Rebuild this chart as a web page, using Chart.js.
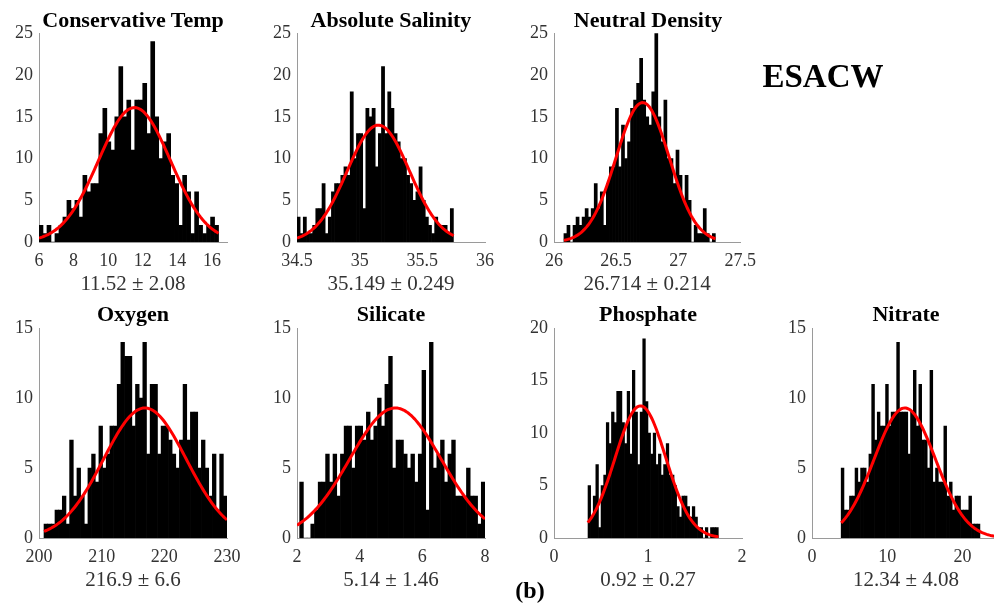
<!DOCTYPE html>
<html>
<head>
<meta charset="utf-8">
<script src="https://cdn.jsdelivr.net/npm/chart.js@4.4.1/dist/chart.umd.min.js"></script>
<style>
html, body { margin: 0; padding: 0; background: #fff; width: 994px; height: 610px; overflow: hidden; }
canvas { position: absolute; }
.lbl { position: absolute; font-family: "Liberation Serif", "Times New Roman", serif; font-weight: bold; color: #000;
       transform: translate(-50%, -50%); white-space: nowrap; z-index: 5; line-height: 1; }
</style>
</head>
<body>
<div class="lbl" style="left:823px; top:76px; font-size:33px;">ESACW</div>
<div class="lbl" style="left:530px; top:590px; font-size:24px;">(b)</div>
<script>
// histogram counts per bin
const tempCounts = [2,1,2,0,1,2,3,5,4,5,3,8,6,7,7,13,16,12,11,15,21,15,17,11,17,17,19,13,24,15,10,12,13,8,7,2,8,6,1,6,2,1,2,3,2];
const salinityCounts = [3,1,3,1,1,2,4,4,7,1,3,6,7,7,8,9,8,18,10,13,13,4,16,15,16,9,13,21,13,18,16,13,12,10,10,8,7,5,6,9,5,3,2,1,3,2,2,2,1,4];
const densityCounts = [1,2,0,2,3,2,3,4,3,4,7,4,6,2,7,9,9,16,9,14,10,12,16,17,19,22,17,15,14,18,25,15,12,17,10,10,7,11,8,5,8,5,0,2,1,1,4,1,0,1];
const oxygenCounts = [1,1,1,2,2,3,1,7,3,5,3,1,5,6,4,8,5,6,8,8,11,14,13,13,8,11,10,14,6,11,11,6,8,8,7,6,5,7,11,7,9,9,5,7,5,3,6,2,6,3];
const silicateCounts = [4,0,0,1,2,4,4,6,4,6,3,6,8,8,5,8,8,7,9,7,8,10,8,11,13,5,7,7,6,5,6,4,6,12,2,14,5,6,7,4,6,7,3,3,3,5,3,3,1,4];
const phosphateCounts = [5,2,4,7,1,5,6,11,9,12,11,14,14,11,9,14,8,16,12,7,12,19,13,10,8,10,7,8,6,7,9,6,6,5,3,2,4,4,3,2,3,2,1,1,0,1,0,1,1,1];
const nitrateCounts = [5,2,2,3,3,5,4,5,5,4,6,11,7,9,8,8,11,8,9,9,14,9,9,9,6,9,12,8,11,7,7,5,12,4,5,4,4,8,3,4,2,3,3,2,2,2,3,1,1,1];

const titles = ['Conservative Temp', 'Absolute Salinity', 'Neutral Density', 'Oxygen', 'Silicate', 'Phosphate', 'Nitrate'];
const means = [11.52, 35.149, 26.714, 216.9, 5.14, 0.92, 12.34];
const stds = [2.08, 0.249, 0.214, 6.6, 1.46, 0.27, 4.08];
const statLabels = ['11.52 ± 2.08', '35.149 ± 0.249', '26.714 ± 0.214', '216.9 ± 6.6', '5.14 ± 1.46', '0.92 ± 0.27', '12.34 ± 4.08'];

// first bin edge and bin width
const binStart = [6.0, 34.5, 26.08, 200.8, 2.085, 0.362, 3.88];
const binWidth = [0.2307, 0.02496, 0.02439, 0.584, 0.1183, 0.02772, 0.369];

// fitted normal curve: peak height and x-range it is drawn over
const fitPeak = [16.1, 14.0, 16.7, 9.3, 9.3, 12.6, 9.3];
const fitFrom = [6.0, 34.5, 26.08, 200.8, 2.0, 0.36, 3.88];
const fitTo = [16.38, 35.75, 27.30, 230, 8.0, 1.75, 25];

// axis limits and ticks
const xMin = [6, 34.5, 26, 200, 2, 0, 0];
const xMax = [16.87, 36, 27.5, 230, 8, 2, 25];
const xStep = [2, 0.5, 0.5, 10, 2, 1, 10];
const yMax = [25, 25, 25, 15, 15, 20, 15];

const allCounts = [tempCounts, salinityCounts, densityCounts, oxygenCounts, silicateCounts, phosphateCounts, nitrateCounts];

// layout of each plot area on the page
const areaLeft = [39, 297, 554, 39, 297, 554, 812];
const rowTop = [0, 0, 0, 295, 295, 295, 295];
const titleY = [20, 20, 20, 314, 314, 314, 314];
const AXIS_W = 40, AREA_W = 188, PAD_R = 22, AREA_TOP = 33.3;
const FONT = '"Liberation Serif", "Times New Roman", serif';

function plainNum(v) {
    return String(parseFloat(Number(v).toFixed(4)));
}

for (let p = 0; p < 7; p++) {
    const counts = allCounts[p];
    const bars = counts.map((c, i) => ({ x: binStart[p] + binWidth[p] * (i + 0.5), y: c }));

    const curve = [];
    const n = 120;
    for (let i = 0; i <= n; i++) {
        const x = fitFrom[p] + (fitTo[p] - fitFrom[p]) * i / n;
        const z = (x - means[p]) / stds[p];
        curve.push({ x: x, y: fitPeak[p] * Math.exp(-0.5 * z * z) });
    }

    // panel title, centred over the plot area
    const t = document.createElement('div');
    t.className = 'lbl';
    t.style.left = (areaLeft[p] + AREA_W / 2) + 'px';
    t.style.top = titleY[p] + 'px';
    t.style.fontSize = '22px';
    t.textContent = titles[p];
    document.body.appendChild(t);

    const cv = document.createElement('canvas');
    const w = AXIS_W + AREA_W + PAD_R;
    const h = p < 3 ? 298 : 299;
    cv.width = w; cv.height = h;
    cv.style.left = (areaLeft[p] - AXIS_W) + 'px';
    cv.style.top = rowTop[p] + 'px';
    cv.style.width = w + 'px'; cv.style.height = h + 'px';
    document.body.appendChild(cv);

    new Chart(cv.getContext('2d'), {
        type: 'bar',
        data: {
            datasets: [{
                type: 'line',
                data: curve,
                borderColor: '#ff0000',
                borderWidth: 3,
                pointRadius: 0,
                fill: false,
                tension: 0,
                order: 0
            }, {
                type: 'bar',
                data: bars,
                backgroundColor: '#000000',
                borderWidth: 0,
                barPercentage: 1,
                categoryPercentage: 1,
                order: 1
            }]
        },
        options: {
            responsive: false,
            animation: false,
            events: [],
            layout: { padding: { left: 0, right: PAD_R, top: AREA_TOP, bottom: 0 } },
            plugins: {
                legend: { display: false },
                tooltip: { enabled: false },
                title: { display: false }
            },
            scales: {
                x: {
                    type: 'linear',
                    offset: false,
                    min: xMin[p],
                    max: xMax[p],
                    grid: { display: false, drawTicks: false },
                    border: { display: true, color: '#9a9a9a', width: 1 },
                    ticks: {
                        stepSize: xStep[p],
                        includeBounds: false,
                        autoSkip: false,
                        maxRotation: 0,
                        padding: 8,
                        color: '#333',
                        font: { family: FONT, size: 18 },
                        callback: plainNum
                    },
                    title: {
                        display: true,
                        text: statLabels[p],
                        color: '#333',
                        font: { family: FONT, size: 21 },
                        padding: { top: 0, bottom: 0.5 }
                    },
                    afterFit: function (s) { s.height = 56; }
                },
                y: {
                    min: 0,
                    max: yMax[p],
                    grid: { display: false, drawTicks: false },
                    border: { display: true, color: '#9a9a9a', width: 1 },
                    ticks: {
                        stepSize: 5,
                        padding: 6,
                        color: '#333',
                        font: { family: FONT, size: 18 },
                        callback: plainNum
                    },
                    afterFit: function (s) { s.width = AXIS_W; }
                }
            }
        }
    });
}
</script>
</body>
</html>
